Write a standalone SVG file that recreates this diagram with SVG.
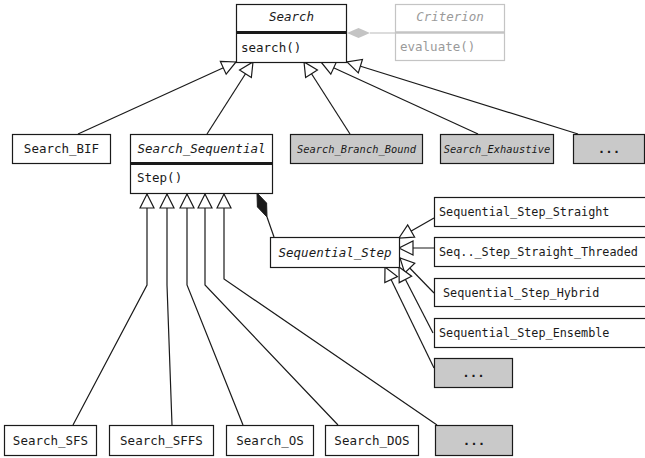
<svg xmlns="http://www.w3.org/2000/svg" width="645" height="458" viewBox="0 0 645 458">
<defs>
<style>
.box{fill:#fff;stroke:#1a1a1a;stroke-width:1.2}
.gbox{fill:#c9c9c9;stroke:#1a1a1a;stroke-width:1.2}
.t{font-family:"DejaVu Sans Mono","Liberation Mono",monospace;font-size:12.5px;fill:#1a1a1a}
.s{font-size:11.8px}
.g{font-size:10.4px}
.i{font-style:italic}
.c{text-anchor:middle}
.div{stroke:#1a1a1a;stroke-width:3}
.ln{fill:none;stroke:#1a1a1a;stroke-width:1.2}
.gray{stroke:#c4c4c4}
</style>
<marker id="tri" markerUnits="userSpaceOnUse" markerWidth="14" markerHeight="14" viewBox="0 0 14 14" refX="14" refY="7" orient="auto" overflow="visible">
<path d="M0,0 L14,7 L0,14 Z" fill="#fff" stroke="#1a1a1a" stroke-width="1.2"/>
</marker>
</defs>

<g id="connectors">
<path class="ln" d="M78,134 L236,62" marker-end="url(#tri)"/>
<path class="ln" d="M207,134 L253,62" marker-end="url(#tri)"/>
<path class="ln" d="M350,134 L304,62" marker-end="url(#tri)"/>
<path class="ln" d="M478,134 L321,62" marker-end="url(#tri)"/>
<path class="ln" d="M578,134 L347,62" marker-end="url(#tri)"/>
<path class="ln" d="M73,425 L147,285 L147,194" marker-end="url(#tri)"/>
<path class="ln" d="M172,425 L167,285 L167,194" marker-end="url(#tri)"/>
<path class="ln" d="M243,425 L187,285 L187,194" marker-end="url(#tri)"/>
<path class="ln" d="M338,425 L205,285 L205,194" marker-end="url(#tri)"/>
<path class="ln" d="M437,425 L224,279 L224,194" marker-end="url(#tri)"/>
<path class="ln" d="M434,218 L399,238" marker-end="url(#tri)"/>
<path class="ln" d="M434,248 L399,248" marker-end="url(#tri)"/>
<path class="ln" d="M434,293 L400,258" marker-end="url(#tri)"/>
<path class="ln" d="M433,333 L399,267" marker-end="url(#tri)"/>
<path class="ln" d="M434,368 L385,267" marker-end="url(#tri)"/>
<path class="ln" d="M267,217 L274,237"/>
<polygon points="257,193 266.6,203.1 267,217 257.4,206.9" fill="#1a1a1a" stroke="#1a1a1a" stroke-width="1"/>
<path class="ln gray" d="M370,33 L395,33"/>
<polygon points="347,33 358.5,28 370,33 358.5,38" fill="#c4c4c4"/>
</g>

<g id="Search">
<rect class="box" x="236.5" y="4.5" width="110" height="58"/>
<line class="div" x1="236" y1="32.5" x2="347" y2="32.5"/>
<text class="t i c" x="291.5" y="21">Search</text>
<text class="t" x="241" y="52">search()</text>
</g>

<g id="Criterion">
<rect fill="#fff" stroke="#c4c4c4" stroke-width="1.2" x="395.5" y="4.5" width="109" height="56"/>
<line stroke="#c4c4c4" stroke-width="2.5" x1="395" y1="32.5" x2="505" y2="32.5"/>
<text class="t i c" x="450" y="21" style="fill:#9a9a9a">Criterion</text>
<text class="t" x="400" y="51" style="fill:#9a9a9a">evaluate()</text>
</g>

<g id="Search_BIF">
<rect class="box" x="12.5" y="134.5" width="98" height="29"/>
<text class="t c" x="61.5" y="153">Search_BIF</text>
</g>

<g id="Search_Sequential">
<rect class="box" x="130.5" y="134.5" width="142" height="59"/>
<line class="div" x1="130" y1="163.5" x2="273" y2="163.5"/>
<text class="t i c" x="201.5" y="153">Search_Sequential</text>
<text class="t" x="137" y="182">Step()</text>
</g>

<g id="Search_Branch_Bound">
<rect class="gbox" x="290.5" y="134.5" width="132" height="29"/>
<text class="t g i c" x="356.5" y="153">Search_Branch_Bound</text>
</g>

<g id="Search_Exhaustive">
<rect class="gbox" x="440.5" y="134.5" width="113" height="29"/>
<text class="t g i c" x="497" y="153">Search_Exhaustive</text>
</g>

<g id="Search_More">
<rect class="gbox" x="573.5" y="134.5" width="71" height="29"/>
<text class="t c" x="609" y="153" font-weight="bold">...</text>
</g>

<g id="Sequential_Step">
<rect class="box" x="270.5" y="237.5" width="129" height="30"/>
<text class="t i c" x="335" y="257">Sequential_Step</text>
</g>

<g id="Sequential_Step_Straight">
<rect class="box" x="434.5" y="197.5" width="215" height="29"/>
<text class="t s" x="439" y="216">Sequential_Step_Straight</text>
</g>

<g id="Seq_Step_Straight_Threaded">
<rect class="box" x="434.5" y="237.5" width="215" height="29"/>
<text class="t s" x="439" y="256">Seq.._Step_Straight_Threaded</text>
</g>

<g id="Sequential_Step_Hybrid">
<rect class="box" x="434.5" y="278.5" width="215" height="28"/>
<text class="t s" x="443" y="297">Sequential_Step_Hybrid</text>
</g>

<g id="Sequential_Step_Ensemble">
<rect class="box" x="434.5" y="318.5" width="215" height="29"/>
<text class="t s" x="439" y="337">Sequential_Step_Ensemble</text>
</g>

<g id="Step_More">
<rect class="gbox" x="434.5" y="358.5" width="78" height="29"/>
<text class="t c" x="473.5" y="377" font-weight="bold">...</text>
</g>

<g id="Search_SFS">
<rect class="box" x="4.5" y="425.5" width="92" height="30"/>
<text class="t c" x="50.5" y="445">Search_SFS</text>
</g>

<g id="Search_SFFS">
<rect class="box" x="109.5" y="425.5" width="104" height="30"/>
<text class="t c" x="161.5" y="445">Search_SFFS</text>
</g>

<g id="Search_OS">
<rect class="box" x="226.5" y="425.5" width="87" height="30"/>
<text class="t c" x="270" y="445">Search_OS</text>
</g>

<g id="Search_DOS">
<rect class="box" x="325.5" y="425.5" width="93" height="30"/>
<text class="t c" x="372" y="445">Search_DOS</text>
</g>

<g id="Sequential_More">
<rect class="gbox" x="435.5" y="425.5" width="77" height="30"/>
<text class="t c" x="474" y="445" font-weight="bold">...</text>
</g>
</svg>
